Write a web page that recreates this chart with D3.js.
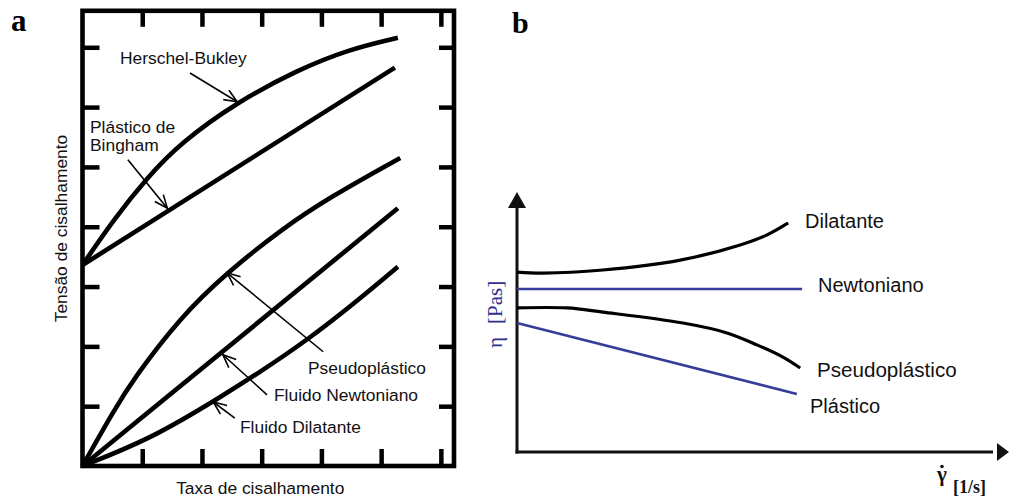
<!DOCTYPE html>
<html>
<head>
<meta charset="utf-8">
<script src="https://cdn.jsdelivr.net/npm/d3@7"></script>
<style>
  html, body { margin: 0; padding: 0; background: #fff; }
  svg { display: block; }
  text { font-family: "Liberation Sans", Arial, sans-serif; }
  .serif { font-family: "Liberation Serif", "Times New Roman", serif; }
</style>
</head>
<body>
<svg id="chart" width="1009" height="498"></svg>
<script>
// ---------- Panel a: shear stress vs shear rate ----------
const aTicksX = [1, 2, 3, 4, 5, 6];
const aTicksY = [1, 2, 3, 4, 5, 6, 7];

const herschelX = [0, 0.52, 1.09, 1.64, 2.60, 3.60, 4.44, 5.28];
const herschelY = [3.36, 4.12, 4.83, 5.40, 6.09, 6.62, 6.96, 7.16];

const binghamX = [0, 5.23];
const binghamY = [3.36, 6.66];

const pseudoX = [0, 0.52, 0.85, 1.64, 2.43, 3.32, 4.15, 5.32];
const pseudoY = [0, 0.92, 1.45, 2.49, 3.24, 3.95, 4.50, 5.15];

const newtonX = [0, 5.28];
const newtonY = [0, 4.31];

const dilatantX = [0, 1.09, 2.19, 3.82, 5.28];
const dilatantY = [0, 0.43, 1.07, 2.11, 3.33];

const aLabels = ["Herschel-Bukley", "Plástico de", "Bingham", "Pseudoplástico",
                 "Fluido Newtoniano", "Fluido Dilatante"];

// ---------- Panel b: viscosity vs shear rate ----------
const bDilX = [0, 0.54, 1.79, 3.40, 4.65, 5.21, 5.65];
const bDilY = [6.92, 6.88, 7.00, 7.38, 7.96, 8.35, 8.81];

const bNewX = [0, 5.94];
const bNewY = [6.27, 6.27];

const bPseX = [0, 1.04, 1.79, 3.46, 4.375, 5.0, 5.54, 5.90];
const bPseY = [5.54, 5.54, 5.38, 4.96, 4.58, 4.12, 3.65, 3.23];

const bPlaX = [0, 5.83];
const bPlaY = [4.96, 2.23];

const bLabels = ["Dilatante", "Newtoniano", "Pseudoplástico", "Plástico"];

const zip = (xs, ys) => xs.map((x, i) => [x, ys[i]]);

const svg = d3.select("#chart");
const INK = "#000";
const BLUE = "#363c98";

// open arrowhead for the annotation pointers
svg.append("defs").append("marker")
  .attr("id", "openArrow")
  .attr("markerUnits", "userSpaceOnUse")
  .attr("viewBox", "-14 -7 16 14")
  .attr("refX", 0).attr("refY", 0)
  .attr("markerWidth", 16).attr("markerHeight", 14)
  .attr("orient", "auto")
  .append("path")
  .attr("d", "M-13,-5.5 L0,0 L-13,5.5")
  .attr("fill", "none").attr("stroke", INK).attr("stroke-width", 1.6);

// ===== Panel a =====
const xA = d3.scaleLinear().domain([0, 6.22]).range([82.5, 454]);
const yA = d3.scaleLinear().domain([0, 7.61]).range([466, 10.8]);
const gA = svg.append("g");

function tickAxis(axis, transform) {
  const g = gA.append("g").attr("transform", transform).call(axis);
  g.select(".domain").remove();
  g.selectAll(".tick line").attr("stroke", INK).attr("stroke-width", 4.5);
  g.selectAll(".tick text").remove();
}
tickAxis(d3.axisBottom(xA).tickValues(aTicksX).tickSize(-17).tickFormat(""), `translate(0,${yA(0)})`);
tickAxis(d3.axisTop(xA).tickValues(aTicksX).tickSize(-16).tickFormat(""), `translate(0,${yA(7.61)})`);
tickAxis(d3.axisLeft(yA).tickValues(aTicksY).tickSize(-17).tickFormat(""), `translate(${xA(0)},0)`);
tickAxis(d3.axisRight(yA).tickValues(aTicksY).tickSize(-15).tickFormat(""), `translate(${xA(6.22)},0)`);

gA.append("rect")
  .attr("x", xA(0)).attr("y", yA(7.61))
  .attr("width", xA(6.22) - xA(0)).attr("height", yA(0) - yA(7.61))
  .attr("fill", "none").attr("stroke", INK).attr("stroke-width", 4.6);

const lineA = d3.line().x(d => xA(d[0])).y(d => yA(d[1])).curve(d3.curveBasis);
[[herschelX, herschelY], [binghamX, binghamY], [pseudoX, pseudoY],
 [newtonX, newtonY], [dilatantX, dilatantY]].forEach(([xs, ys]) => {
  gA.append("path").attr("d", lineA(zip(xs, ys)))
    .attr("fill", "none").attr("stroke", INK).attr("stroke-width", 4.6)
    .attr("stroke-linecap", "butt");
});

// pointers from labels to curves (tail -> tip, data units)
const pointers = [
  [[1.80, 6.57], [2.59, 6.09]],
  [[0.76, 5.12], [1.42, 4.31]],
  [[4.03, 1.91], [2.42, 3.23]],
  [[3.09, 1.19], [2.35, 1.86]],
  [[2.55, 0.80], [2.19, 1.07]]
];
pointers.forEach(([t, h]) => {
  gA.append("line")
    .attr("x1", xA(t[0])).attr("y1", yA(t[1]))
    .attr("x2", xA(h[0])).attr("y2", yA(h[1]))
    .attr("stroke", INK).attr("stroke-width", 1.6)
    .attr("marker-end", "url(#openArrow)");
});

const aLabelPos = [[120, 63.5], [90, 132.5], [90, 150.5], [308, 374], [274, 401], [240, 433]];
aLabels.forEach((t, i) => {
  gA.append("text").attr("x", aLabelPos[i][0]).attr("y", aLabelPos[i][1])
    .attr("font-size", 17.4).attr("fill", "#111").text(t);
});

gA.append("text").attr("x", (xA(0) + xA(6.22)) / 2 - 8).attr("y", 494)
  .attr("text-anchor", "middle").attr("font-size", 17.4).attr("fill", "#111")
  .text("Taxa de cisalhamento");
gA.append("text")
  .attr("transform", `translate(67,228.5) rotate(-90)`)
  .attr("text-anchor", "middle").attr("font-size", 17.4).attr("fill", "#111")
  .text("Tensão de cisalhamento");

svg.append("text").attr("class", "serif").attr("x", 11).attr("y", 31)
  .attr("font-size", 31).attr("font-weight", "bold").text("a");
svg.append("text").attr("class", "serif").attr("x", 512).attr("y", 33)
  .attr("font-size", 30).attr("font-weight", "bold").text("b");

// ===== Panel b =====
const xB = d3.scaleLinear().domain([0, 10]).range([517, 997]);
const yB = d3.scaleLinear().domain([0, 10]).range([452, 192]);
const gB = svg.append("g");

// axes with filled arrowheads
gB.append("line").attr("x1", xB(0)).attr("y1", yB(0) + 1.5).attr("x2", xB(0)).attr("y2", yB(10) + 12)
  .attr("stroke", "#111").attr("stroke-width", 3);
gB.append("line").attr("x1", xB(0) - 1.5).attr("y1", yB(0)).attr("x2", xB(10) - 4).attr("y2", yB(0))
  .attr("stroke", "#111").attr("stroke-width", 3);
gB.append("path")
  .attr("d", `M${xB(0)},${yB(10)} L${xB(0) - 9},${yB(10) + 16} L${xB(0) + 9},${yB(10) + 16} Z`)
  .attr("fill", "#111");
gB.append("path")
  .attr("d", `M${xB(10) + 12},${yB(0)} L${xB(10) + 0},${yB(0) - 9} L${xB(10) + 0},${yB(0) + 9} Z`)
  .attr("fill", "#111");

const lineB = d3.line().x(d => xB(d[0])).y(d => yB(d[1])).curve(d3.curveCatmullRom.alpha(0.5));
[[bDilX, bDilY, INK, 3.2], [bNewX, bNewY, BLUE, 2.6],
 [bPseX, bPseY, INK, 3.2], [bPlaX, bPlaY, BLUE, 2.6]].forEach(([xs, ys, c, w]) => {
  gB.append("path").attr("d", lineB(zip(xs, ys)))
    .attr("fill", "none").attr("stroke", c).attr("stroke-width", w);
});

const bLabelPos = [[805, 228], [818, 292], [817, 377], [810, 413]];
bLabels.forEach((t, i) => {
  gB.append("text").attr("x", bLabelPos[i][0]).attr("y", bLabelPos[i][1])
    .attr("font-size", i === 2 ? 20.6 : 20).attr("fill", "#111").text(t);
});

// eta axis title
const eta = gB.append("text").attr("class", "serif")
  .attr("transform", "translate(502,348) rotate(-90)")
  .attr("font-size", 21).attr("fill", "#2e3192");
eta.append("tspan").text("η");
eta.append("tspan").attr("dx", 13).text("[Pas]");

// gamma-dot axis title
const gx = 937;
gB.append("text").attr("class", "serif").attr("x", gx).attr("y", 481)
  .attr("font-size", 21).attr("font-weight", "bold").attr("fill", "#111").text("γ");
gB.append("circle").attr("cx", gx + 5).attr("cy", 466.5).attr("r", 1.8).attr("fill", "#111");
gB.append("text").attr("class", "serif").attr("x", 953).attr("y", 493)
  .attr("font-size", 18).attr("font-weight", "bold").attr("fill", "#111").text("[1/s]");
</script>
</body>
</html>
